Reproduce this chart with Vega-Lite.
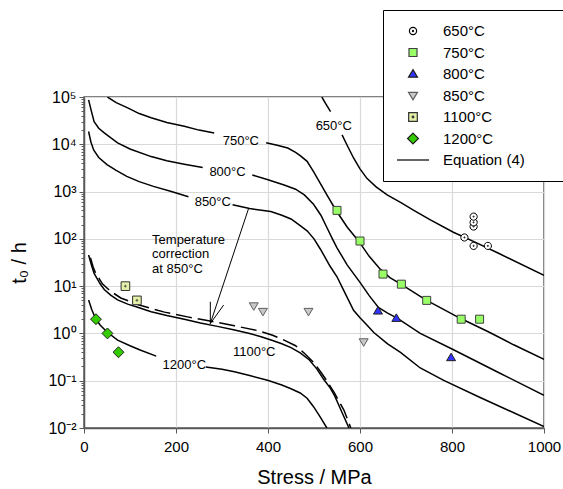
{
  "$schema": "https://vega.github.io/schema/vega-lite/v6.json",
  "width": 460,
  "height": 331,
  "autosize": {"type": "none"},
  "padding": {"left": 84, "top": 97, "right": 19, "bottom": 61},
  "config": {
    "font": "Liberation Sans",
    "view": {"stroke": "#595959", "strokeWidth": 1.5},
    "axis": {
      "gridColor": "#d9d9d9",
      "gridWidth": 1.2,
      "domainColor": "#595959",
      "domainWidth": 1.5,
      "tickColor": "#595959",
      "tickWidth": 1,
      "labelFontSize": 15,
      "labelColor": "#000000",
      "titleFontSize": 20,
      "titleFontWeight": "normal",
      "titleColor": "#000000",
      "labelFlush": false,
      "labelOverlap": false
    }
  },
  "datasets": {
    "curves": [
      {"seg": "650a", "S": 517, "t": 100000}, {"seg": "650a", "S": 526, "t": 70790}, {"seg": "650a", "S": 536, "t": 48980},
      {"seg": "650b", "S": 561, "t": 15850}, {"seg": "650b", "S": 572, "t": 9550}, {"seg": "650b", "S": 586, "t": 5129},
      {"seg": "650b", "S": 600, "t": 3020}, {"seg": "650b", "S": 615, "t": 1905}, {"seg": "650b", "S": 635, "t": 1259},
      {"seg": "650b", "S": 659, "t": 851}, {"seg": "650b", "S": 690, "t": 575}, {"seg": "650b", "S": 716, "t": 407},
      {"seg": "650b", "S": 753, "t": 251}, {"seg": "650b", "S": 803, "t": 138}, {"seg": "650b", "S": 850, "t": 85.1},
      {"seg": "650b", "S": 900, "t": 50.1}, {"seg": "650b", "S": 1000, "t": 17.0},

      {"seg": "750a", "S": 51, "t": 100000}, {"seg": "750a", "S": 70, "t": 75860}, {"seg": "750a", "S": 95, "t": 58880},
      {"seg": "750a", "S": 120, "t": 44670}, {"seg": "750a", "S": 146, "t": 36310}, {"seg": "750a", "S": 180, "t": 28840},
      {"seg": "750a", "S": 218, "t": 23990}, {"seg": "750a", "S": 250, "t": 19950}, {"seg": "750a", "S": 283, "t": 17380},
      {"seg": "750b", "S": 396, "t": 10720}, {"seg": "750b", "S": 420, "t": 9550}, {"seg": "750b", "S": 443, "t": 8318},
      {"seg": "750b", "S": 460, "t": 6761}, {"seg": "750b", "S": 470, "t": 5754}, {"seg": "750b", "S": 485, "t": 4365},
      {"seg": "750b", "S": 499, "t": 2630}, {"seg": "750b", "S": 514, "t": 1479}, {"seg": "750b", "S": 528, "t": 851},
      {"seg": "750b", "S": 548, "t": 398}, {"seg": "750b", "S": 572, "t": 178}, {"seg": "750b", "S": 598, "t": 87.1},
      {"seg": "750b", "S": 620, "t": 42.7}, {"seg": "750b", "S": 644, "t": 22.9}, {"seg": "750b", "S": 665, "t": 15.1},
      {"seg": "750b", "S": 688, "t": 11.2}, {"seg": "750b", "S": 743, "t": 5.13}, {"seg": "750b", "S": 818, "t": 2.09},
      {"seg": "750b", "S": 880, "t": 1.07}, {"seg": "750b", "S": 934, "t": 0.575}, {"seg": "750b", "S": 1000, "t": 0.282},

      {"seg": "800a", "S": 10, "t": 87100}, {"seg": "800a", "S": 16, "t": 50120}, {"seg": "800a", "S": 22, "t": 30200},
      {"seg": "800a", "S": 32, "t": 21880}, {"seg": "800a", "S": 44, "t": 17380}, {"seg": "800a", "S": 73, "t": 10720},
      {"seg": "800a", "S": 100, "t": 7943}, {"seg": "800a", "S": 146, "t": 5495}, {"seg": "800a", "S": 180, "t": 4467},
      {"seg": "800a", "S": 218, "t": 3802}, {"seg": "800a", "S": 258, "t": 3236},
      {"seg": "800b", "S": 366, "t": 2239}, {"seg": "800b", "S": 400, "t": 1778}, {"seg": "800b", "S": 435, "t": 1380},
      {"seg": "800b", "S": 460, "t": 1122}, {"seg": "800b", "S": 479, "t": 851}, {"seg": "800b", "S": 499, "t": 537},
      {"seg": "800b", "S": 515, "t": 316}, {"seg": "800b", "S": 528, "t": 174}, {"seg": "800b", "S": 540, "t": 100},
      {"seg": "800b", "S": 550, "t": 64.6}, {"seg": "800b", "S": 572, "t": 28.2}, {"seg": "800b", "S": 600, "t": 12.0},
      {"seg": "800b", "S": 620, "t": 6.31}, {"seg": "800b", "S": 640, "t": 3.55}, {"seg": "800b", "S": 660, "t": 2.69},
      {"seg": "800b", "S": 680, "t": 2.14}, {"seg": "800b", "S": 731, "t": 1.0}, {"seg": "800b", "S": 800, "t": 0.468},
      {"seg": "800b", "S": 900, "t": 0.151}, {"seg": "800b", "S": 1000, "t": 0.049},

      {"seg": "850a", "S": 10, "t": 18620}, {"seg": "850a", "S": 15, "t": 11220}, {"seg": "850a", "S": 21, "t": 7586},
      {"seg": "850a", "S": 32, "t": 5248}, {"seg": "850a", "S": 50, "t": 3715}, {"seg": "850a", "S": 70, "t": 2818},
      {"seg": "850a", "S": 93, "t": 2089}, {"seg": "850a", "S": 120, "t": 1622}, {"seg": "850a", "S": 151, "t": 1288},
      {"seg": "850a", "S": 190, "t": 1000}, {"seg": "850a", "S": 227, "t": 776},
      {"seg": "850b", "S": 323, "t": 525}, {"seg": "850b", "S": 360, "t": 437}, {"seg": "850b", "S": 406, "t": 380},
      {"seg": "850b", "S": 430, "t": 316}, {"seg": "850b", "S": 450, "t": 263}, {"seg": "850b", "S": 470, "t": 191},
      {"seg": "850b", "S": 485, "t": 148}, {"seg": "850b", "S": 500, "t": 100}, {"seg": "850b", "S": 514, "t": 60.3},
      {"seg": "850b", "S": 521, "t": 45.7}, {"seg": "850b", "S": 535, "t": 26.3}, {"seg": "850b", "S": 550, "t": 15.8},
      {"seg": "850b", "S": 564, "t": 8.32}, {"seg": "850b", "S": 586, "t": 3.09}, {"seg": "850b", "S": 600, "t": 2.14},
      {"seg": "850b", "S": 615, "t": 1.51}, {"seg": "850b", "S": 630, "t": 1.047}, {"seg": "850b", "S": 660, "t": 0.603},
      {"seg": "850b", "S": 688, "t": 0.398}, {"seg": "850b", "S": 731, "t": 0.186}, {"seg": "850b", "S": 782, "t": 0.102},
      {"seg": "850b", "S": 860, "t": 0.0447}, {"seg": "850b", "S": 1000, "t": 0.0107},

      {"seg": "1100", "S": 10, "t": 45.7}, {"seg": "1100", "S": 16, "t": 28.2}, {"seg": "1100", "S": 22, "t": 18.6},
      {"seg": "1100", "S": 35, "t": 11.2}, {"seg": "1100", "S": 44, "t": 8.51}, {"seg": "1100", "S": 58, "t": 6.46},
      {"seg": "1100", "S": 73, "t": 5.13}, {"seg": "1100", "S": 95, "t": 4.17}, {"seg": "1100", "S": 115, "t": 3.63},
      {"seg": "1100", "S": 146, "t": 2.88}, {"seg": "1100", "S": 180, "t": 2.40}, {"seg": "1100", "S": 218, "t": 2.00},
      {"seg": "1100", "S": 253, "t": 1.66}, {"seg": "1100", "S": 290, "t": 1.41}, {"seg": "1100", "S": 325, "t": 1.20},
      {"seg": "1100", "S": 360, "t": 1.0}, {"seg": "1100", "S": 385, "t": 0.851}, {"seg": "1100", "S": 410, "t": 0.708},
      {"seg": "1100", "S": 430, "t": 0.603}, {"seg": "1100", "S": 450, "t": 0.501}, {"seg": "1100", "S": 470, "t": 0.389},
      {"seg": "1100", "S": 490, "t": 0.275}, {"seg": "1100", "S": 506, "t": 0.178}, {"seg": "1100", "S": 521, "t": 0.107},
      {"seg": "1100", "S": 535, "t": 0.0708}, {"seg": "1100", "S": 545, "t": 0.0479}, {"seg": "1100", "S": 560, "t": 0.0224},
      {"seg": "1100", "S": 576, "t": 0.01},

      {"seg": "1200a", "S": 10, "t": 5.07}, {"seg": "1200a", "S": 17, "t": 3.16}, {"seg": "1200a", "S": 25, "t": 2.09},
      {"seg": "1200a", "S": 35, "t": 1.51}, {"seg": "1200a", "S": 50, "t": 1.07}, {"seg": "1200a", "S": 73, "t": 0.724},
      {"seg": "1200a", "S": 100, "t": 0.550}, {"seg": "1200a", "S": 122, "t": 0.447}, {"seg": "1200a", "S": 157, "t": 0.331},
      {"seg": "1200b", "S": 265, "t": 0.195}, {"seg": "1200b", "S": 300, "t": 0.174}, {"seg": "1200b", "S": 327, "t": 0.155},
      {"seg": "1200b", "S": 360, "t": 0.129}, {"seg": "1200b", "S": 399, "t": 0.102}, {"seg": "1200b", "S": 430, "t": 0.0813},
      {"seg": "1200b", "S": 450, "t": 0.0676}, {"seg": "1200b", "S": 470, "t": 0.055}, {"seg": "1200b", "S": 485, "t": 0.0427},
      {"seg": "1200b", "S": 499, "t": 0.0282}, {"seg": "1200b", "S": 513, "t": 0.0174}, {"seg": "1200b", "S": 528, "t": 0.01}
    ],
    "corrected": [
      {"S": 14, "t": 39.8}, {"S": 20, "t": 25.1}, {"S": 25, "t": 19.1}, {"S": 40, "t": 11.2},
      {"S": 58, "t": 7.76}, {"S": 80, "t": 5.62}, {"S": 120, "t": 3.98}, {"S": 175, "t": 2.82},
      {"S": 225, "t": 2.24}, {"S": 280, "t": 1.78}, {"S": 327, "t": 1.45}, {"S": 377, "t": 1.15},
      {"S": 410, "t": 0.912}, {"S": 435, "t": 0.724}, {"S": 460, "t": 0.55}, {"S": 479, "t": 0.38},
      {"S": 500, "t": 0.24}, {"S": 515, "t": 0.151}, {"S": 528, "t": 0.1}, {"S": 545, "t": 0.0537},
      {"S": 565, "t": 0.024}, {"S": 580, "t": 0.01}
    ],
    "tests": [
      {"series": "650°C", "S": 827, "t": 107}, {"series": "650°C", "S": 847, "t": 71}, {"series": "650°C", "S": 878, "t": 71},
      {"series": "650°C", "S": 847, "t": 182}, {"series": "650°C", "S": 847, "t": 224}, {"series": "650°C", "S": 847, "t": 295},
      {"series": "750°C", "S": 550, "t": 400}, {"series": "750°C", "S": 600, "t": 90}, {"series": "750°C", "S": 650, "t": 18},
      {"series": "750°C", "S": 690, "t": 11}, {"series": "750°C", "S": 745, "t": 5}, {"series": "750°C", "S": 820, "t": 2},
      {"series": "750°C", "S": 860, "t": 2},
      {"series": "800°C", "S": 639, "t": 3.0}, {"series": "800°C", "S": 679, "t": 2.1}, {"series": "800°C", "S": 798, "t": 0.31},
      {"series": "850°C", "S": 369, "t": 3.8}, {"series": "850°C", "S": 389, "t": 2.9}, {"series": "850°C", "S": 488, "t": 2.9},
      {"series": "850°C", "S": 608, "t": 0.66},
      {"series": "1100°C", "S": 90, "t": 10}, {"series": "1100°C", "S": 115, "t": 5},
      {"series": "1200°C", "S": 26, "t": 2.0}, {"series": "1200°C", "S": 51, "t": 1.0}, {"series": "1200°C", "S": 75, "t": 0.4}
    ],
    "curveLabels": [
      {"label": "650°C", "S": 543, "t": 23990},
      {"label": "750°C", "S": 341, "t": 11480},
      {"label": "800°C", "S": 312, "t": 2570},
      {"label": "850°C", "S": 280, "t": 603},
      {"label": "1100°C", "S": 370, "t": 0.407},
      {"label": "1200°C", "S": 218, "t": 0.214}
    ],
    "note": [
      {"label": "Temperature", "S": 148, "t": 94.8},
      {"label": "correction", "S": 148, "t": 47.9},
      {"label": "at 850°C", "S": 148, "t": 22.7}
    ],
    "arrow": [
      {"S": 358, "t": 445, "S2": 274.6, "t2": 1.62},
      {"S": 274.6, "t": 1.62, "S2": 274.6, "t2": 4.68},
      {"S": 274.6, "t": 1.62, "S2": 303.5, "t2": 3.98}
    ]
  },
  "layer": [
    {
      "data": {"name": "curves"},
      "mark": {"type": "line", "color": "#000000", "strokeWidth": 1.5, "clip": true},
      "encoding": {
        "x": {
          "field": "S", "type": "quantitative",
          "scale": {"domain": [0, 1000], "nice": false},
          "axis": {
            "title": "Stress / MPa",
            "format": "d",
            "values": [0, 200, 400, 600, 800, 1000],
            "tickSize": 5,
            "labelPadding": 6,
            "titlePadding": 13
          }
        },
        "y": {
          "field": "t", "type": "quantitative",
          "scale": {"type": "log", "domain": [0.01, 100000], "nice": false},
          "axis": {
            "title": "t₀ / h",
            "titlePadding": 18,
            "labelPadding": 3,
            "labelFontSize": 16,
            "values": [0.01,0.02,0.03,0.04,0.05,0.06,0.07,0.08,0.09,
                       0.1,0.2,0.3,0.4,0.5,0.6,0.7,0.8,0.9,
                       1,2,3,4,5,6,7,8,9,
                       10,20,30,40,50,60,70,80,90,
                       100,200,300,400,500,600,700,800,900,
                       1000,2000,3000,4000,5000,6000,7000,8000,9000,
                       10000,20000,30000,40000,50000,60000,70000,80000,90000,
                       100000],
            "labelExpr": "abs(log(datum.value)/LN10 - round(log(datum.value)/LN10)) < 0.001 ? ['10⁻²','10⁻¹','10⁰','10¹','10²','10³','10⁴','10⁵'][round(log(datum.value)/LN10) + 2] : ''",
            "tickSize": {"condition": {"test": "abs(log(datum.value)/LN10 - round(log(datum.value)/LN10)) < 0.001", "value": 5}, "value": 3},
            "gridOpacity": {"condition": {"test": "abs(log(datum.value)/LN10 - round(log(datum.value)/LN10)) < 0.001", "value": 1}, "value": 0}
          }
        },
        "detail": {"field": "seg"}
      }
    },
    {
      "data": {"name": "corrected"},
      "mark": {"type": "line", "color": "#000000", "strokeWidth": 1.5, "strokeDash": [16, 6], "clip": true},
      "encoding": {
        "x": {"field": "S", "type": "quantitative"},
        "y": {"field": "t", "type": "quantitative"}
      }
    },
    {
      "data": {"name": "arrow"},
      "mark": {"type": "rule", "color": "#000000", "strokeWidth": 1},
      "encoding": {
        "x": {"field": "S", "type": "quantitative"},
        "y": {"field": "t", "type": "quantitative"},
        "x2": {"field": "S2"},
        "y2": {"field": "t2"}
      }
    },
    {
      "data": {"name": "curveLabels"},
      "mark": {"type": "text", "fontSize": 13, "align": "center", "baseline": "middle", "color": "#000000"},
      "encoding": {
        "x": {"field": "S", "type": "quantitative"},
        "y": {"field": "t", "type": "quantitative"},
        "text": {"field": "label"}
      }
    },
    {
      "data": {"name": "note"},
      "mark": {"type": "text", "fontSize": 13, "align": "left", "baseline": "middle", "color": "#000000"},
      "encoding": {
        "x": {"field": "S", "type": "quantitative"},
        "y": {"field": "t", "type": "quantitative"},
        "text": {"field": "label"}
      }
    },
    {
      "data": {"name": "tests"},
      "mark": {"type": "point", "filled": false, "opacity": 1, "strokeWidth": 1, "size": 1024},
      "encoding": {
        "x": {"field": "S", "type": "quantitative"},
        "y": {"field": "t", "type": "quantitative"},
        "shape": {
          "field": "series", "type": "nominal",
          "scale": {
            "domain": ["650°C", "750°C", "800°C", "850°C", "1100°C", "1200°C", "Equation (4)"],
            "range": [
              "M0.225,0A0.225,0.225,0,1,1,-0.225,0A0.225,0.225,0,1,1,0.225,0Z M0.035,0A0.035,0.035,0,1,1,-0.035,0A0.035,0.035,0,1,1,0.035,0Z",
              "M-0.25,-0.25H0.25V0.25H-0.25Z",
              "M0,-0.27L0.28,0.2L-0.28,0.2Z",
              "M0,0.27L0.28,-0.2L-0.28,-0.2Z",
              "M-0.27,-0.27H0.27V0.27H-0.27Z M0.05,0A0.05,0.05,0,1,1,-0.05,0A0.05,0.05,0,1,1,0.05,0Z",
              "M0,-0.34L0.34,0L0,0.34L-0.34,0Z",
              "M-1,0H1"
            ]
          },
          "legend": {
            "title": null,
            "orient": "none",
            "legendX": 299,
            "legendY": -87,
            "fillColor": "#ffffff",
            "strokeColor": "#000000",
            "padding": 13,
            "labelFontSize": 15,
            "labelOffset": 13,
            "rowPadding": 5.5,
            "clipHeight": 16,
            "symbolSize": 1024,
            "symbolStrokeWidth": 1.2,
            "labelExpr": "datum.label == 'Equation (4)' ? 'Equation (4)\u00a0\u2800\u2800' : datum.label"
          }
        },
        "fill": {
          "field": "series", "type": "nominal",
          "scale": {
            "domain": ["650°C", "750°C", "800°C", "850°C", "1100°C", "1200°C", "Equation (4)"],
            "range": ["#ffffff", "#99ff66", "#3333ff", "#c8c8c8", "#e4f0a8", "#33cc00", "transparent"]
          }
        },
        "stroke": {
          "field": "series", "type": "nominal",
          "scale": {
            "domain": ["650°C", "750°C", "800°C", "850°C", "1100°C", "1200°C", "Equation (4)"],
            "range": ["#000000", "#404040", "#202020", "#606060", "#303030", "#202020", "#000000"]
          }
        }
      }
    }
  ]
}
